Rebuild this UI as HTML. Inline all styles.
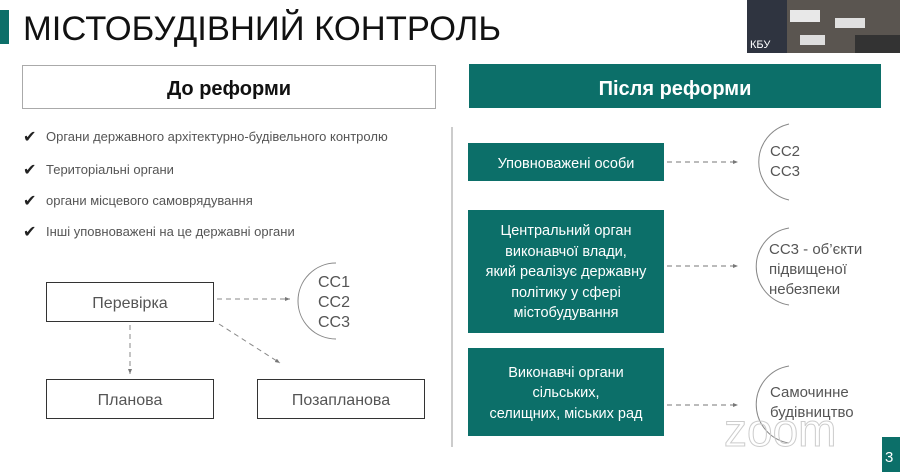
<!DOCTYPE html>
<html><head><meta charset="utf-8"><style>
html,body{margin:0;padding:0;background:#fff;}
svg{display:block;}
text{font-family:"Liberation Sans","DejaVu Sans",sans-serif;}
</style></head><body>
<svg width="900" height="472" viewBox="0 0 900 472" xmlns="http://www.w3.org/2000/svg">
<defs>
<marker id="ar" markerWidth="6" markerHeight="6" refX="5" refY="3" orient="auto"><path d="M0,1 L5,3 L0,5 Z" fill="#777"/></marker>
</defs>
<rect width="900" height="472" fill="#fff"/>
<rect x="0" y="10" width="9" height="34" fill="#0c6f69"/>
<text x="23" y="40" font-size="34" fill="#111" textLength="478" lengthAdjust="spacingAndGlyphs">МІСТОБУДІВНИЙ КОНТРОЛЬ</text>
<!-- webcam -->
<rect x="747" y="0" width="153" height="53" fill="#5a5550"/>
<rect x="747" y="0" width="40" height="53" fill="#2f3440"/>
<rect x="790" y="10" width="30" height="12" fill="#e8e8e8"/>
<rect x="835" y="18" width="30" height="10" fill="#e0e0e0"/>
<rect x="800" y="35" width="25" height="10" fill="#ddd"/>
<rect x="855" y="35" width="45" height="18" fill="#333"/>
<text x="750" y="48" font-size="11" fill="#fff">КБУ</text>
<!-- headers -->
<rect x="22.5" y="65.5" width="413" height="43" fill="#fff" stroke="#aaa" stroke-width="1"/>
<text x="229" y="95" font-size="20" font-weight="bold" text-anchor="middle" fill="#111">До реформи</text>
<rect x="469" y="64" width="412" height="44" fill="#0c6f69"/>
<text x="675" y="95" font-size="20" font-weight="bold" text-anchor="middle" fill="#fff">Після реформи</text>
<!-- checklist -->
<g font-size="13" fill="#555">
<text x="23" y="142" font-size="16" fill="#222">✔</text><text x="46" y="141">Органи державного архітектурно-будівельного контролю</text>
<text x="23" y="175" font-size="16" fill="#222">✔</text><text x="46" y="174">Територіальні органи</text>
<text x="23" y="206" font-size="16" fill="#222">✔</text><text x="46" y="205">органи місцевого самоврядування</text>
<text x="23" y="237" font-size="16" fill="#222">✔</text><text x="46" y="236">Інші уповноважені на це державні органи</text>
</g>
<line x1="452" y1="127" x2="452" y2="447" stroke="#999" stroke-width="1"/>
<!-- left diagram -->
<g fill="#fff" stroke="#333" stroke-width="1">
<rect x="46.5" y="282.5" width="167" height="39"/>
<rect x="46.5" y="379.5" width="167" height="39"/>
<rect x="257.5" y="379.5" width="167" height="39"/>
</g>
<g font-size="16" fill="#555" text-anchor="middle">
<text x="130" y="308">Перевірка</text>
<text x="130" y="405">Планова</text>
<text x="341" y="405">Позапланова</text>
</g>
<g stroke="#888" stroke-width="1" stroke-dasharray="5,4" fill="none">
<line x1="217" y1="299" x2="290" y2="299" marker-end="url(#ar)"/>
<line x1="130" y1="325" x2="130" y2="374" marker-end="url(#ar)"/>
<line x1="219" y1="324" x2="280" y2="363" marker-end="url(#ar)"/>
</g>
<path d="M336,263 A38,38 0 0 0 336,339" fill="none" stroke="#888"/>
<g font-size="16" fill="#555">
<text x="318" y="287">СС1</text><text x="318" y="307">СС2</text><text x="318" y="327">СС3</text>
</g>
<!-- right diagram -->
<g fill="#0c6f69">
<rect x="468" y="143" width="196" height="38"/>
<rect x="468" y="210" width="196" height="123"/>
<rect x="468" y="348" width="196" height="88"/>
</g>
<g font-size="14.5" fill="#fff" text-anchor="middle">
<text x="566" y="168">Уповноважені особи</text>
<text x="566" y="235">Центральний орган</text>
<text x="566" y="256">виконавчої влади,</text>
<text x="566" y="276">який реалізує державну</text>
<text x="566" y="297">політику у сфері</text>
<text x="566" y="317">містобудування</text>
<text x="566" y="377">Виконавчі органи</text>
<text x="566" y="397">сільських,</text>
<text x="566" y="418">селищних, міських рад</text>
</g>
<g stroke="#777" stroke-width="1" stroke-dasharray="5,4" fill="none">
<line x1="667" y1="162" x2="738" y2="162" marker-end="url(#ar)"/>
<line x1="667" y1="266" x2="738" y2="266" marker-end="url(#ar)"/>
<line x1="667" y1="405" x2="738" y2="405" marker-end="url(#ar)"/>
</g>
<g fill="none" stroke="#888">
<path d="M789,124 A39,39 0 0 0 789,200"/>
<path d="M789,228 A39,39 0 0 0 789,305"/>
<path d="M789,366 A39,39 0 0 0 789,443"/>
</g>
<g font-size="15" fill="#555">
<text x="770" y="156">СС2</text><text x="770" y="176">СС3</text>
<text x="769" y="254">СС3 - об’єкти</text><text x="769" y="274">підвищеної</text><text x="769" y="294">небезпеки</text>
<text x="770" y="397">Самочинне</text><text x="770" y="417">будівництво</text>
</g>
<text x="724" y="446" font-size="46" fill="none" stroke="#ccc" stroke-width="1">zoom</text>
<rect x="882" y="437" width="18" height="35" fill="#0c6f69"/>
<text x="885" y="462" font-size="15" fill="#fff">3</text>
</svg>
</body></html>
